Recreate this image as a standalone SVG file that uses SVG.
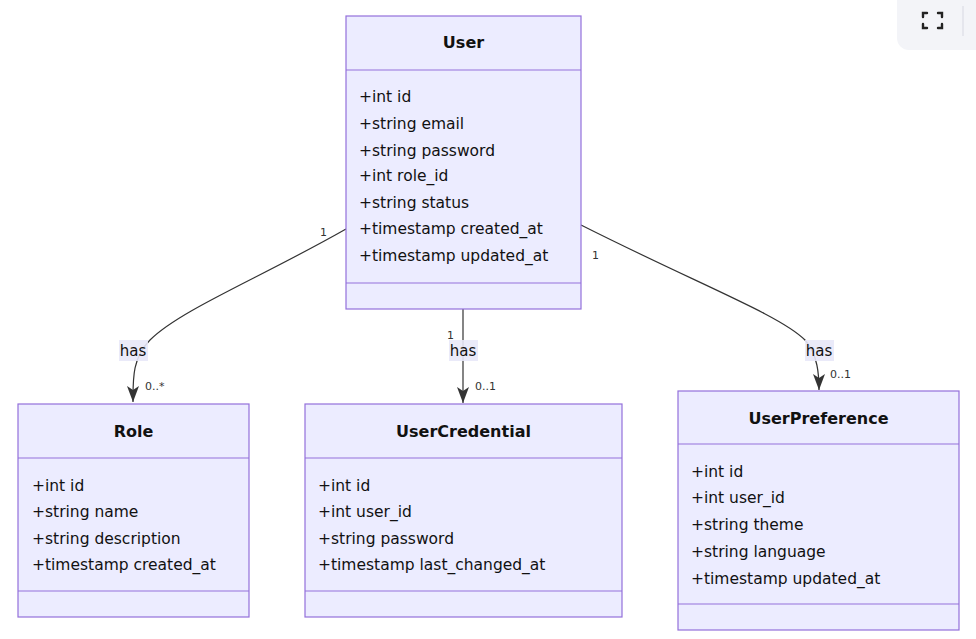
<svg xmlns="http://www.w3.org/2000/svg" width="976" height="639" viewBox="0 0 976 639">
<defs>
<style>
.box{fill:#ECECFF;stroke:#9370DB;stroke-width:1.2}
.div{stroke:#9370DB;stroke-width:1.2}
text{font-family:"DejaVu Sans",Verdana,sans-serif;fill:#111}
.t{font-size:16px;font-weight:bold;text-anchor:middle}
.a{font-size:15.5px}
.lbl{font-size:15px;text-anchor:middle}
.card{font-size:11px;fill:#333}
.edge{fill:none;stroke:#333;stroke-width:1.2}
.lblbg{fill:#E8E8F8;opacity:0.9}
</style>
<marker id="arr" viewBox="0 0 20 14" refX="18" refY="7" markerWidth="20" markerHeight="14" markerUnits="userSpaceOnUse" orient="auto">
<path d="M2,1 L18,7 L2,13 L6,7 Z" fill="#333"/>
</marker>
</defs>
<rect x="897" y="-10" width="100" height="60" rx="12" fill="#F3F4F8"/>
<g fill="none" stroke="#222" stroke-width="2.4" stroke-linecap="round">
<path d="M923,17 v-4 h4 M923,24 v4 h4 M938,13 h4 v4 M938,28 h4 v-4"/>
</g>
<line x1="963" y1="6" x2="963" y2="36" stroke="#E0E2EA" stroke-width="1.5"/>
<g id="connectors">
<path class="edge" marker-end="url(#arr)" d="M346,229 C260,278 180,310 150,340 C132,358 133,380 133,402"/>
<path class="edge" marker-end="url(#arr)" d="M463,309 L463,403"/>
<path class="edge" marker-end="url(#arr)" d="M581,225 C700,285 780,315 805,340 C818,355 819,375 819,390"/>
<rect class="lblbg" x="119" y="340" width="29" height="21"/>
<text class="lbl" x="133" y="356">has</text>
<rect class="lblbg" x="449" y="340" width="29" height="21"/>
<text class="lbl" x="463" y="356">has</text>
<rect class="lblbg" x="805" y="340" width="29" height="21"/>
<text class="lbl" x="819" y="356">has</text>
<text class="card" x="320" y="236">1</text>
<text class="card" x="145" y="390">0..*</text>
<text class="card" x="447" y="339">1</text>
<text class="card" x="475" y="390">0..1</text>
<text class="card" x="592" y="259">1</text>
<text class="card" x="830" y="378">0..1</text>
</g>
<g id="User">
<rect class="box" x="346" y="16" width="235" height="293"/>
<line class="div" x1="346" y1="70" x2="581" y2="70"/>
<line class="div" x1="346" y1="283" x2="581" y2="283"/>
<text class="t" x="463.5" y="48">User</text>
<text class="a" x="359" y="102">+int id</text>
<text class="a" x="359" y="129">+string email</text>
<text class="a" x="359" y="156">+string password</text>
<text class="a" x="359" y="181">+int role_id</text>
<text class="a" x="359" y="208">+string status</text>
<text class="a" x="359" y="234">+timestamp created_at</text>
<text class="a" x="359" y="261">+timestamp updated_at</text>
</g>
<g id="Role">
<rect class="box" x="18" y="404" width="231" height="213"/>
<line class="div" x1="18" y1="458" x2="249" y2="458"/>
<line class="div" x1="18" y1="591" x2="249" y2="591"/>
<text class="t" x="133.5" y="437">Role</text>
<text class="a" x="32" y="491">+int id</text>
<text class="a" x="32" y="517">+string name</text>
<text class="a" x="32" y="544">+string description</text>
<text class="a" x="32" y="570">+timestamp created_at</text>
</g>
<g id="UserCredential">
<rect class="box" x="305" y="404" width="317" height="213"/>
<line class="div" x1="305" y1="458" x2="622" y2="458"/>
<line class="div" x1="305" y1="591" x2="622" y2="591"/>
<text class="t" x="463.5" y="437">UserCredential</text>
<text class="a" x="318" y="491">+int id</text>
<text class="a" x="318" y="517">+int user_id</text>
<text class="a" x="318" y="544">+string password</text>
<text class="a" x="318" y="570">+timestamp last_changed_at</text>
</g>
<g id="UserPreference">
<rect class="box" x="678" y="391" width="281" height="239"/>
<line class="div" x1="678" y1="444" x2="959" y2="444"/>
<line class="div" x1="678" y1="604" x2="959" y2="604"/>
<text class="t" x="818.5" y="424">UserPreference</text>
<text class="a" x="691" y="477">+int id</text>
<text class="a" x="691" y="503">+int user_id</text>
<text class="a" x="691" y="530">+string theme</text>
<text class="a" x="691" y="557">+string language</text>
<text class="a" x="691" y="584">+timestamp updated_at</text>
</g>
</svg>
